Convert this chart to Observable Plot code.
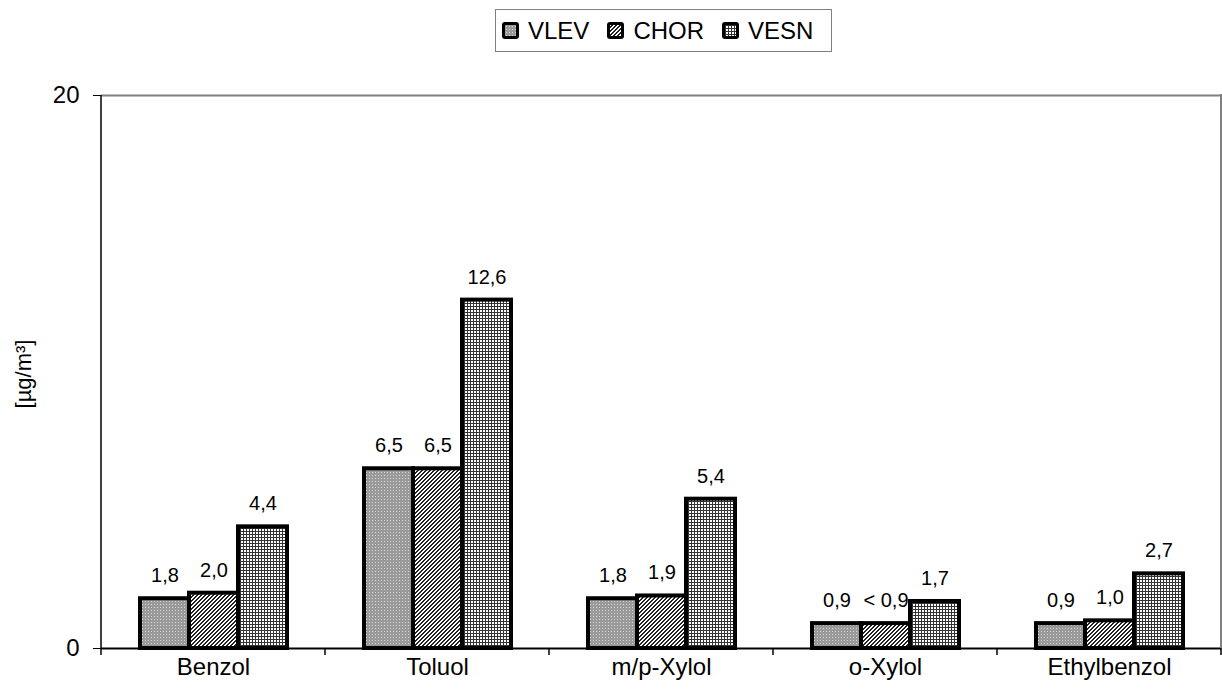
<!DOCTYPE html>
<html><head><meta charset="utf-8">
<script src="https://cdn.jsdelivr.net/npm/d3@7"></script>
<script src="https://cdn.jsdelivr.net/npm/@observablehq/plot@0.6"></script>
<style>
body{margin:0;background:#fff;font-family:"Liberation Sans",Arial,sans-serif;}
#wrap{position:relative;width:1222px;height:700px;overflow:hidden;}
#legend{position:absolute;left:495px;top:9px;height:43px;box-sizing:border-box;border:1px solid #808080;
  display:flex;align-items:center;padding:0 18px 0 6px;font-size:24px;color:#000;background:#fff;}
#legend .item{display:flex;align-items:center;margin-right:18px;}
#legend .item:last-child{margin-right:0;}
#legend svg{margin-right:9px;display:block;}
#ylabel{position:absolute;left:24px;top:374px;transform:translate(-50%,-50%) rotate(-90deg);font-size:22px;white-space:nowrap;}
</style></head>
<body><div id="wrap"><div id="chart"></div><div id="legend"></div><div id="ylabel">[µg/m³]</div></div>
<script>
const categories = ["Benzol", "Toluol", "m/p-Xylol", "o-Xylol", "Ethylbenzol"];
const seriesNames = ["VLEV", "CHOR", "VESN"];
const vlevValues = [1.8, 6.5, 1.8, 0.9, 0.9];
const chorValues = [2.0, 6.5, 1.9, 0.9, 1.0];
const vesnValues = [4.4, 12.6, 5.4, 1.7, 2.7];
const vlevLabels = ["1,8", "6,5", "1,8", "0,9", "0,9"];
const chorLabels = ["2,0", "6,5", "1,9", "< 0,9", "1,0"];
const vesnLabels = ["4,4", "12,6", "5,4", "1,7", "2,7"];
const yTicks = [0, 20];
const yDomain = [0, 20];

const patternIds = {VLEV: "pat-vlev", CHOR: "pat-chor", VESN: "pat-vesn"};
const valueSets = [vlevValues, chorValues, vesnValues];
const labelSets = [vlevLabels, chorLabels, vesnLabels];

const rows = [];
seriesNames.forEach((s, si) => {
  categories.forEach((c, ci) => {
    rows.push({cat: c, series: s, value: valueSets[si][ci], label: labelSets[si][ci]});
  });
});

const font = '"Liberation Sans", Arial, sans-serif';

const plot = Plot.plot({
  width: 1222,
  height: 700,
  marginLeft: 101,
  marginRight: 1,
  marginTop: 95,
  marginBottom: 52,
  style: {fontFamily: font, fontSize: "24px", color: "#000", background: "#fff", overflow: "visible"},
  fx: {domain: categories, padding: 0, label: null},
  x: {domain: seriesNames, paddingInner: 0, paddingOuter: 0.74, axis: null},
  y: {domain: yDomain, label: null},
  marks: [
    Plot.ruleY([yDomain[1]], {stroke: "#808080", strokeWidth: 2}),
    ...seriesNames.map(s => Plot.barY(rows.filter(r => r.series === s), {
      fx: "cat", x: "series", y: "value",
      fill: `url(#${patternIds[s]})`, stroke: "#000", strokeWidth: 4, inset: 0
    })),
    Plot.text(rows, {fx: "cat", x: "series", y: "value", text: "label", dy: -23,
      fontSize: 20, lineAnchor: "middle", fill: "#000"}),
    Plot.ruleY([0], {stroke: "#000", strokeWidth: 2}),
    Plot.axisY({ticks: yTicks, tickSize: 8, tickPadding: 14, label: null, fontSize: 24,
      tickFormat: d => String(d), stroke: "#000"}),
    Plot.axisFx({anchor: "bottom", tickSize: 0, tickPadding: 9, label: null, fontSize: 24})
  ]
});

// pattern definitions
const svg = d3.select(plot);
const defs = svg.insert("defs", ":first-child");
const p1 = defs.append("pattern").attr("id", "pat-vlev").attr("patternUnits", "userSpaceOnUse")
  .attr("width", 3).attr("height", 3).attr("shape-rendering", "crispEdges");
p1.append("rect").attr("width", 3).attr("height", 3).attr("fill", "#9a9a9a");
p1.append("rect").attr("x", 1).attr("y", 1).attr("width", 1).attr("height", 1).attr("fill", "#d4d4d4");
const p2 = defs.append("pattern").attr("id", "pat-chor").attr("patternUnits", "userSpaceOnUse")
  .attr("width", 4).attr("height", 4).attr("shape-rendering", "crispEdges");
p2.append("rect").attr("width", 4).attr("height", 4).attr("fill", "#fff");
[[3,0],[2,1],[1,2],[0,3],[0,0],[3,1],[2,2],[1,3]].forEach(([px, py]) => {
  p2.append("rect").attr("x", px).attr("y", py).attr("width", 1).attr("height", 1).attr("fill", "#222");
});
const p3 = defs.append("pattern").attr("id", "pat-vesn").attr("patternUnits", "userSpaceOnUse")
  .attr("width", 3).attr("height", 3).attr("shape-rendering", "crispEdges");
p3.append("rect").attr("width", 3).attr("height", 3).attr("fill", "#fff");
p3.append("rect").attr("width", 3).attr("height", 1).attr("fill", "#333");
p3.append("rect").attr("width", 1).attr("height", 3).attr("fill", "#333");

// frame pieces derived from the scales
const fx = plot.scale("fx");
const y = plot.scale("y");
const y0 = y.apply(0), yTop = y.apply(yDomain[1]);
const left = fx.apply(categories[0]);
const right = fx.apply(categories[categories.length - 1]) + fx.bandwidth;
const g = svg.append("g").attr("stroke-linecap", "butt");
g.append("line").attr("x1", left).attr("x2", left).attr("y1", yTop).attr("y2", y0 + 7)
  .attr("stroke", "#000").attr("stroke-width", 1.5);
g.append("line").attr("x1", right).attr("x2", right).attr("y1", yTop - 1).attr("y2", y0)
  .attr("stroke", "#808080").attr("stroke-width", 2);
categories.forEach(c => {
  const xr = fx.apply(c) + fx.bandwidth;
  g.append("line").attr("x1", xr).attr("x2", xr).attr("y1", y0).attr("y2", y0 + 7)
    .attr("stroke", "#000").attr("stroke-width", 1.5);
});

document.getElementById("chart").appendChild(plot);

const legend = d3.select("#legend");
seriesNames.forEach(s => {
  const item = legend.append("div").attr("class", "item");
  const sw = item.append("svg").attr("width", 17).attr("height", 17);
  sw.append("rect").attr("x", 0).attr("y", 0).attr("width", 17).attr("height", 17).attr("rx", 3).attr("fill", "#000");
  sw.append("rect").attr("x", 3).attr("y", 3).attr("width", 11).attr("height", 11).attr("fill", `url(#${patternIds[s]})`);
  item.append("span").text(s);
});
</script>
</body></html>
